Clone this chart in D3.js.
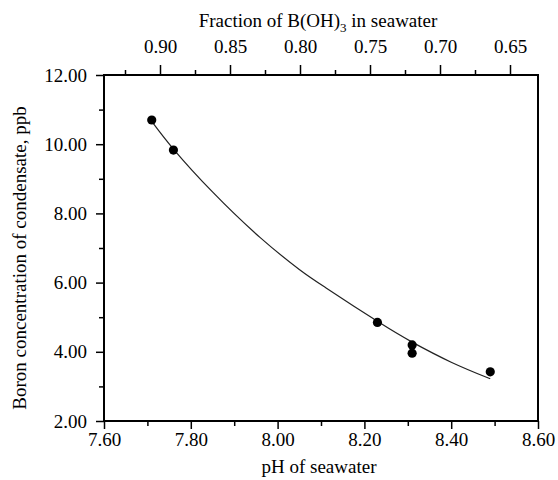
<!DOCTYPE html>
<html>
<head>
<meta charset="utf-8">
<script src="https://cdn.jsdelivr.net/npm/d3@7"></script>
<style>
  body { margin: 0; background: #fff; }
  svg text { font-family: 'Liberation Serif', 'Times New Roman', serif; }
</style>
</head>
<body>
<div id="vis"></div>
<script>
// measured samples
const samplePH = [7.71, 7.76, 8.23, 8.31, 8.31, 8.49];
const sampleBoron = [10.70, 9.83, 4.85, 4.20, 3.96, 3.42];

// fitted curve
const fitPH = [7.71, 7.76, 7.85, 7.96, 8.05, 8.11, 8.23, 8.31, 8.40, 8.49];
const fitBoron = [10.66, 9.86, 8.62, 7.30, 6.38, 5.86, 4.88, 4.28, 3.70, 3.22];

const phTicks = [7.6, 7.8, 8.0, 8.2, 8.4, 8.6];
const phMinor = [7.7, 7.9, 8.1, 8.3, 8.5];
const boronTicks = [2, 4, 6, 8, 10, 12];
const boronMinor = [3, 5, 7, 9, 11];
const fractionTicks = [0.90, 0.85, 0.80, 0.75, 0.70, 0.65];
const fractionMinor = [0.925, 0.875, 0.825, 0.775, 0.725, 0.675];

const width = 558;
const height = 480;
const margin = { top: 75, right: 20, bottom: 59, left: 104 };
const fontSize = '19px';

const x = d3.scaleLinear()
    .domain([7.6, 8.6])
    .range([margin.left, width - margin.right]);

const y = d3.scaleLinear()
    .domain([2, 12])
    .range([height - margin.bottom, margin.top]);

// top axis is linear in fraction of B(OH)3
const xTop = d3.scaleLinear()
    .domain([0.94, 0.63])
    .range([margin.left, width - margin.right]);

const svg = d3.select('#vis')
    .append('svg')
    .attr('width', width)
    .attr('height', height);

const fmt = d3.format('.2f');

function styleAxis(g) {
    g.select('.domain').remove();
    g.selectAll('line').attr('stroke', '#000').attr('stroke-width', 1.5);
    g.selectAll('text').attr('font-size', fontSize).attr('fill', '#000');
}

// bottom
svg.append('g')
    .attr('transform', `translate(0, ${height - margin.bottom})`)
    .call(d3.axisBottom(x).tickValues(phTicks).tickFormat(fmt).tickSize(8).tickPadding(4))
    .call(styleAxis);
svg.append('g')
    .attr('transform', `translate(0, ${height - margin.bottom})`)
    .call(d3.axisBottom(x).tickValues(phMinor).tickFormat('').tickSize(5))
    .call(styleAxis);

// left
svg.append('g')
    .attr('transform', `translate(${margin.left}, 0)`)
    .call(d3.axisLeft(y).tickValues(boronTicks).tickFormat(fmt).tickSize(8).tickPadding(9))
    .call(styleAxis);
svg.append('g')
    .attr('transform', `translate(${margin.left}, 0)`)
    .call(d3.axisLeft(y).tickValues(boronMinor).tickFormat('').tickSize(5))
    .call(styleAxis);

// top
svg.append('g')
    .attr('transform', `translate(0, ${margin.top})`)
    .call(d3.axisTop(xTop).tickValues(fractionTicks).tickFormat(fmt).tickSize(10).tickPadding(12))
    .call(styleAxis);
svg.append('g')
    .attr('transform', `translate(0, ${margin.top})`)
    .call(d3.axisTop(xTop).tickValues(fractionMinor).tickFormat('').tickSize(5))
    .call(styleAxis);

// frame
svg.append('rect')
    .attr('x', margin.left)
    .attr('y', margin.top)
    .attr('width', width - margin.left - margin.right)
    .attr('height', height - margin.top - margin.bottom)
    .attr('fill', 'none')
    .attr('stroke', '#000')
    .attr('stroke-width', 2);

// fit curve
const line = d3.line()
    .x(d => x(d[0]))
    .y(d => y(d[1]))
    .curve(d3.curveNatural);

svg.append('path')
    .datum(d3.zip(fitPH, fitBoron))
    .attr('d', line)
    .attr('fill', 'none')
    .attr('stroke', '#222')
    .attr('stroke-width', 1.2);

// samples
svg.selectAll('circle.sample')
    .data(d3.zip(samplePH, sampleBoron))
    .join('circle')
    .attr('class', 'sample')
    .attr('cx', d => x(d[0]))
    .attr('cy', d => y(d[1]))
    .attr('r', 4.6)
    .attr('fill', '#000');

// titles
svg.append('text')
    .attr('x', 319)
    .attr('y', 473)
    .attr('text-anchor', 'middle')
    .attr('font-size', fontSize)
    .text('pH of seawater');

const topTitle = svg.append('text')
    .attr('x', 318)
    .attr('y', 27)
    .attr('text-anchor', 'middle')
    .attr('font-size', fontSize);
topTitle.append('tspan').text('Fraction of B(OH)');
topTitle.append('tspan').attr('font-size', '13px').attr('dy', 5).text('3');
topTitle.append('tspan').attr('dy', -5).text(' in seawater');

svg.append('text')
    .attr('transform', 'translate(26, 258) rotate(-90)')
    .attr('text-anchor', 'middle')
    .attr('font-size', fontSize)
    .text('Boron concentration of condensate, ppb');
</script>
</body>
</html>
